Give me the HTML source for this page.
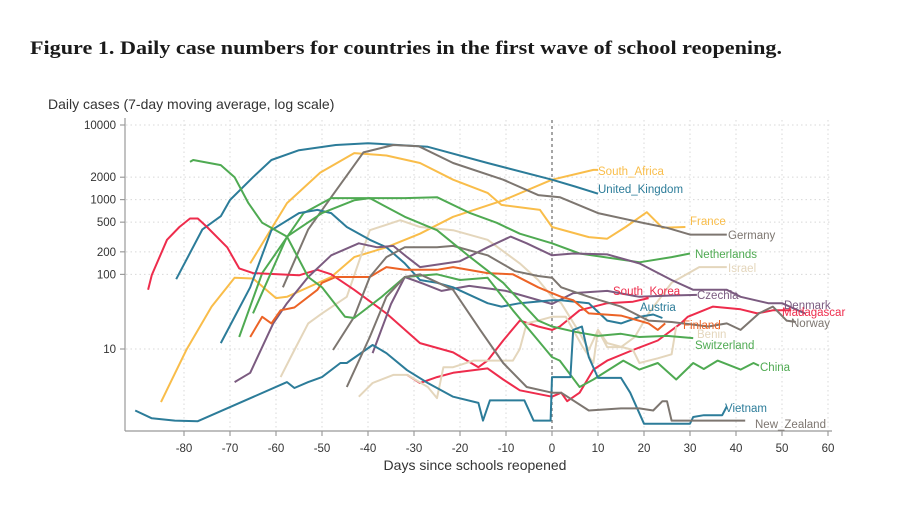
<!DOCTYPE html>
<html><head><meta charset="utf-8"><style>
body{margin:0;background:#fff;width:912px;height:516px;overflow:hidden}
svg{display:block}
</style></head><body>
<svg id="chart" width="912" height="516" viewBox="0 0 912 516" xmlns="http://www.w3.org/2000/svg">
<text x="30" y="54" font-family="'Liberation Serif',serif" font-weight="bold" font-size="19" fill="#1a1a1a" textLength="752" lengthAdjust="spacingAndGlyphs">Figure 1. Daily case numbers for countries in the first wave of school reopening.</text>
<text x="48" y="109" font-family="'Liberation Sans',sans-serif" font-size="14" fill="#333">Daily cases (7-day moving average, log scale)</text>
<text x="475" y="470" text-anchor="middle" font-family="'Liberation Sans',sans-serif" font-size="14" fill="#333">Days since schools reopened</text>
<g id="grid"></g>
<g id="axes"></g>
<g id="series"></g>
<g id="labels"></g>
</svg>
<script>
const xTicks=[-80,-70,-60,-50,-40,-30,-20,-10,0,10,20,30,40,50,60];
const yTicks=[10,100,200,500,1000,2000,10000];
const yTickLabels=["10","100","200","500","1000","2000","10000"];
const seriesNames=["South_Africa","United_Kingdom","France","Germany","Netherlands","Israel","South_Korea","Czechia","Austria","Denmark","Madagascar","Finland","Benin","Norway","Switzerland","China","Vietnam","New_Zealand"];
const southAfrica=[[-85,1.95],[-79.5,9.7],[-74,37],[-69,90],[-65,88],[-60,48],[-57.6,50],[-48,92],[-43,170],[-36,230],[-28.7,350],[-21.5,590],[-10.6,980],[0,1850],[9,2500],[10,2500]];
const unitedKingdom=[[-81.7,86],[-76,400],[-72,600],[-70,990],[-65,2000],[-61,3400],[-55,4600],[-47,5400],[-40,5700],[-27,5100],[-14,3100],[0,1850],[5,1500],[10,1200]];
const france=[[-65.6,140],[-57.6,900],[-50.4,2300],[-43,4200],[-36,3900],[-28.7,3100],[-21.5,1850],[-14,1230],[-11,850],[-2.6,730],[0,430],[8,315],[12,300],[16,430],[20.6,680],[24,420],[29,430]];
const germany=[[-58.5,67],[-53,400],[-48,1080],[-41,4300],[-34.5,5400],[-29,5200],[-21.5,3100],[-10.6,1850],[-3,1150],[1.7,1080],[10,660],[19,500],[25,420],[30,340],[38,340]];
const netherlands=[[-68,14.5],[-63,104],[-54,660],[-48,1050],[-39.6,1050],[-32,1050],[-25,1080],[-17.8,660],[-12,490],[-7,350],[0,260],[6,190],[19,145],[26,170],[30,190]];
const israel=[[-59,4.2],[-56,9.7],[-53,22],[-50,30],[-44.6,50],[-39.6,390],[-33,530],[-28.7,430],[-21.5,390],[-14,290],[-7,140],[-3,84],[0,50],[2,41],[6,16.5],[8,9.7],[10,18],[12,10.6],[15,10.6],[18,14.5],[21,30],[26,77],[32,125],[38,125]];
const southKorea=[[-87.8,62],[-87,98],[-83.7,290],[-81,430],[-78.7,560],[-77,560],[-75,430],[-70.6,230],[-68,120],[-65,104],[-55,97],[-51,115],[-48,100],[-43,62],[-36,30],[-28.7,12],[-21.5,9],[-16,5.7],[-14,7],[-10.6,13],[-7,24],[-3,20],[0,18],[1.7,20],[6,33],[12,41],[17.6,43],[21,48]];
const czechia=[[-39,8.8],[-35,40],[-32,92],[-28,75],[-24,60],[-18,70],[-10,60],[0,40],[4.6,56],[12,60],[19,50],[26,52],[31.5,53]];
const austria=[[-72,12],[-65.6,67],[-61,390],[-55,660],[-51,730],[-48,660],[-44.6,430],[-39.6,290],[-36,230],[-32,140],[-28.7,84],[-25,77],[-21.5,67],[-14,41],[-11,37],[-7,41],[0,45],[2,45],[8,41],[12,24],[15,22],[19,27],[22,29],[24,26]];
const denmark=[[-69,3.6],[-65.6,4.8],[-60.6,22],[-57.6,41],[-53,92],[-48,180],[-42,260],[-38,230],[-34.5,240],[-31.5,170],[-28.7,125],[-20,150],[-14,230],[-9,320],[-5.5,260],[0,180],[4.6,190],[12,185],[19,140],[26,84],[30.7,62],[38,62],[41,50],[47,41],[50,41],[55,30]];
const madagascar=[[-31.5,4.5],[-28.7,3.5],[-25,4.2],[-21.5,4.8],[-14,5.5],[-10.6,3.9],[-7,2.8],[0,2.3],[2,2.6],[3.3,2.0],[6,2.6],[9,5.3],[12,7],[17.6,9.7],[23,13],[28,22],[29.5,27],[35,37],[41,34],[44.6,30],[48,33],[52,33]];
const finland=[[-65.6,14.5],[-63,27],[-61,22],[-59,33],[-56,36],[-51,62],[-50,77],[-47,92],[-39.6,92],[-36,125],[-32,115],[-25,115],[-21.5,125],[-14,104],[-8.5,100],[-3,67],[0,56],[2,50],[4.6,45],[8,30],[15,28],[21,22],[23,18],[24.6,22]];
const benin=[[-42,2.3],[-39,3.5],[-34.5,4.5],[-31.5,4.5],[-27,3.1],[-25,2.2],[-23.6,5.7],[-21.5,5.7],[-17,7],[-8.5,7],[-7,10],[-5.5,22],[-3,24],[0,27],[3,27],[6.7,10.6],[9,6.5],[10,18],[12,12],[17.6,9.7],[19,6.5],[23,7.5],[26,8.5],[27,20]];
const norway=[[-47.6,9.7],[-43,27],[-39.6,92],[-36,170],[-32,230],[-25,230],[-21.5,240],[-14,180],[-8,110],[-3,95],[0,90],[2,67],[8,50],[15,37],[21,24],[26,23],[34,20],[38,22],[41,18],[45,30],[48,37],[51,24],[53,23]];
const switzerland=[[-65,30],[-57.6,320],[-50,660],[-43,980],[-39.6,1050],[-32,590],[-25,390],[-17.8,170],[-10.6,77],[-3,24],[0,20],[5,17],[10,15],[15,16],[19,14.5],[25,15],[30.7,14]];
const china=[[-78.7,3200],[-78,3400],[-72,2900],[-69,2000],[-66,900],[-63,490],[-57.6,320],[-53,92],[-50,67],[-45,27],[-43,26],[-37,50],[-32,92],[-25,100],[-20,84],[-14,90],[-8.5,33],[-3,13],[0,7.8],[1.7,7],[6,3.1],[9,3.9],[15.5,7],[19,5.3],[23,6.5],[27,3.9],[30.7,6.5],[33,5.4],[36,7],[41,5.3],[43.8,6.5],[45,6]];
const vietnam=[[-90.6,1.5],[-87,1.18],[-82,1.1],[-77,1.08],[-57.6,3.6],[-56,3],[-53,3.6],[-50,4.2],[-46,6.5],[-44.6,6.5],[-39,11.3],[-36,8.8],[-31.5,5.2],[-27,3.5],[-21.5,2.3],[-16,1.9],[-15,1.1],[-13.5,2.05],[-6,2.05],[-4,1.1],[-0.3,1.1],[0,4.2],[4,4.2],[4.6,18],[6.5,20],[8,7.8],[10,4.1],[15,4.1],[17,2.6],[20,1.0],[30,1.0],[30.7,1.23],[33,1.3],[37,1.3],[38,1.7]];
const newZealand=[[-44.6,3.1],[-39.6,14.5],[-36,50],[-32,92],[-28.7,100],[-21.5,62],[-15.6,18],[-10.6,6.5],[-5.5,3.1],[0,2.6],[2,2.6],[8,1.5],[15,1.6],[19,1.6],[22,1.5],[24,2.0],[25,2.0],[26,1.1],[42,1.1]];
const seriesData=[southAfrica,unitedKingdom,france,germany,netherlands,israel,southKorea,czechia,austria,denmark,madagascar,finland,benin,norway,switzerland,china,vietnam,newZealand];
const colors=["#f9bd4a","#2c7c99","#f9bd4a","#7d7670","#4faa52","#e4d6bc","#ee2c4c","#7b5b80","#2c7c99","#7b5b80","#ee2c4c","#ec6326","#e4d6bc","#7d7670","#4faa52","#4faa52","#2c7c99","#7d7670"];
const labelPos=[[598,171],[598,189],[690,221],[728,235],[695,254],[728,268],[613,291],[697,295],[640,307],[784,305],[782,312],[683,325],[697,334],[791,323],[695,345],[760,367],[725,408],[755,424]];

const NS="http://www.w3.org/2000/svg";
function xs(d){return 552+4.6*d;}
function ys(v){return 349-(Math.log10(v)-1)*74.67;}
const grid=document.getElementById('grid'),axes=document.getElementById('axes'),ser=document.getElementById('series'),lab=document.getElementById('labels');
function mk(tag,attrs,parent){const e=document.createElementNS(NS,tag);for(const k in attrs)e.setAttribute(k,attrs[k]);parent.appendChild(e);return e;}
yTicks.forEach((t,i)=>{
  const y=ys(t);
  const g=mk('line',{x1:126,x2:830,y1:y,y2:y,stroke:'#d8d8d8','stroke-dasharray':'1.5,3','stroke-width':1},grid);
  
  
  const tk=mk('line',{x1:120,x2:125,y1:y,y2:y,stroke:'#888'},axes);
  
  
  const tx=mk('text',{x:116,y:y+4,'text-anchor':'end','font-family':"'Liberation Sans',sans-serif",'font-size':11.5,fill:'#333'},axes);
  tx.textContent=yTickLabels[i];
  
  
});
xTicks.forEach(t=>{
  const x=xs(t);
  if(t!==0){const g=mk('line',{x1:x,x2:x,y1:120,y2:430,stroke:'#d8d8d8','stroke-dasharray':'1.5,3','stroke-width':1},grid);
  
  }
  const tk=mk('line',{x1:x,x2:x,y1:431,y2:436,stroke:'#888'},axes);
  
  
  const tx=mk('text',{x:x,y:452,'text-anchor':'middle','font-family':"'Liberation Sans',sans-serif",'font-size':11.5,fill:'#333'},axes);
  tx.textContent=String(t);
  
  
});
const ya=mk('line',{x1:125,x2:125,y1:118,y2:431,stroke:'#999','stroke-width':1.2},axes);


const xa=mk('line',{x1:125,x2:832,y1:431,y2:431,stroke:'#999','stroke-width':1.2},axes);


const zl=mk('line',{x1:xs(0),x2:xs(0),y1:120,y2:431,stroke:'#777','stroke-dasharray':'3,3','stroke-width':1.3},axes);


seriesData.forEach((pts,i)=>{
  const d=pts.map((p,j)=>(j?'L':'M')+xs(p[0]).toFixed(1)+','+ys(p[1]).toFixed(1)).join('');
  const p=mk('path',{d:d,fill:'none',stroke:colors[i],'stroke-width':2,'stroke-linejoin':'round'},ser);
  
  
  const t=mk('text',{x:labelPos[i][0],y:labelPos[i][1]+4,'font-family':"'Liberation Sans',sans-serif",'font-size':11.5,fill:colors[i]},lab);
  t.textContent=seriesNames[i];
  
  
});
</script>
</body></html>
